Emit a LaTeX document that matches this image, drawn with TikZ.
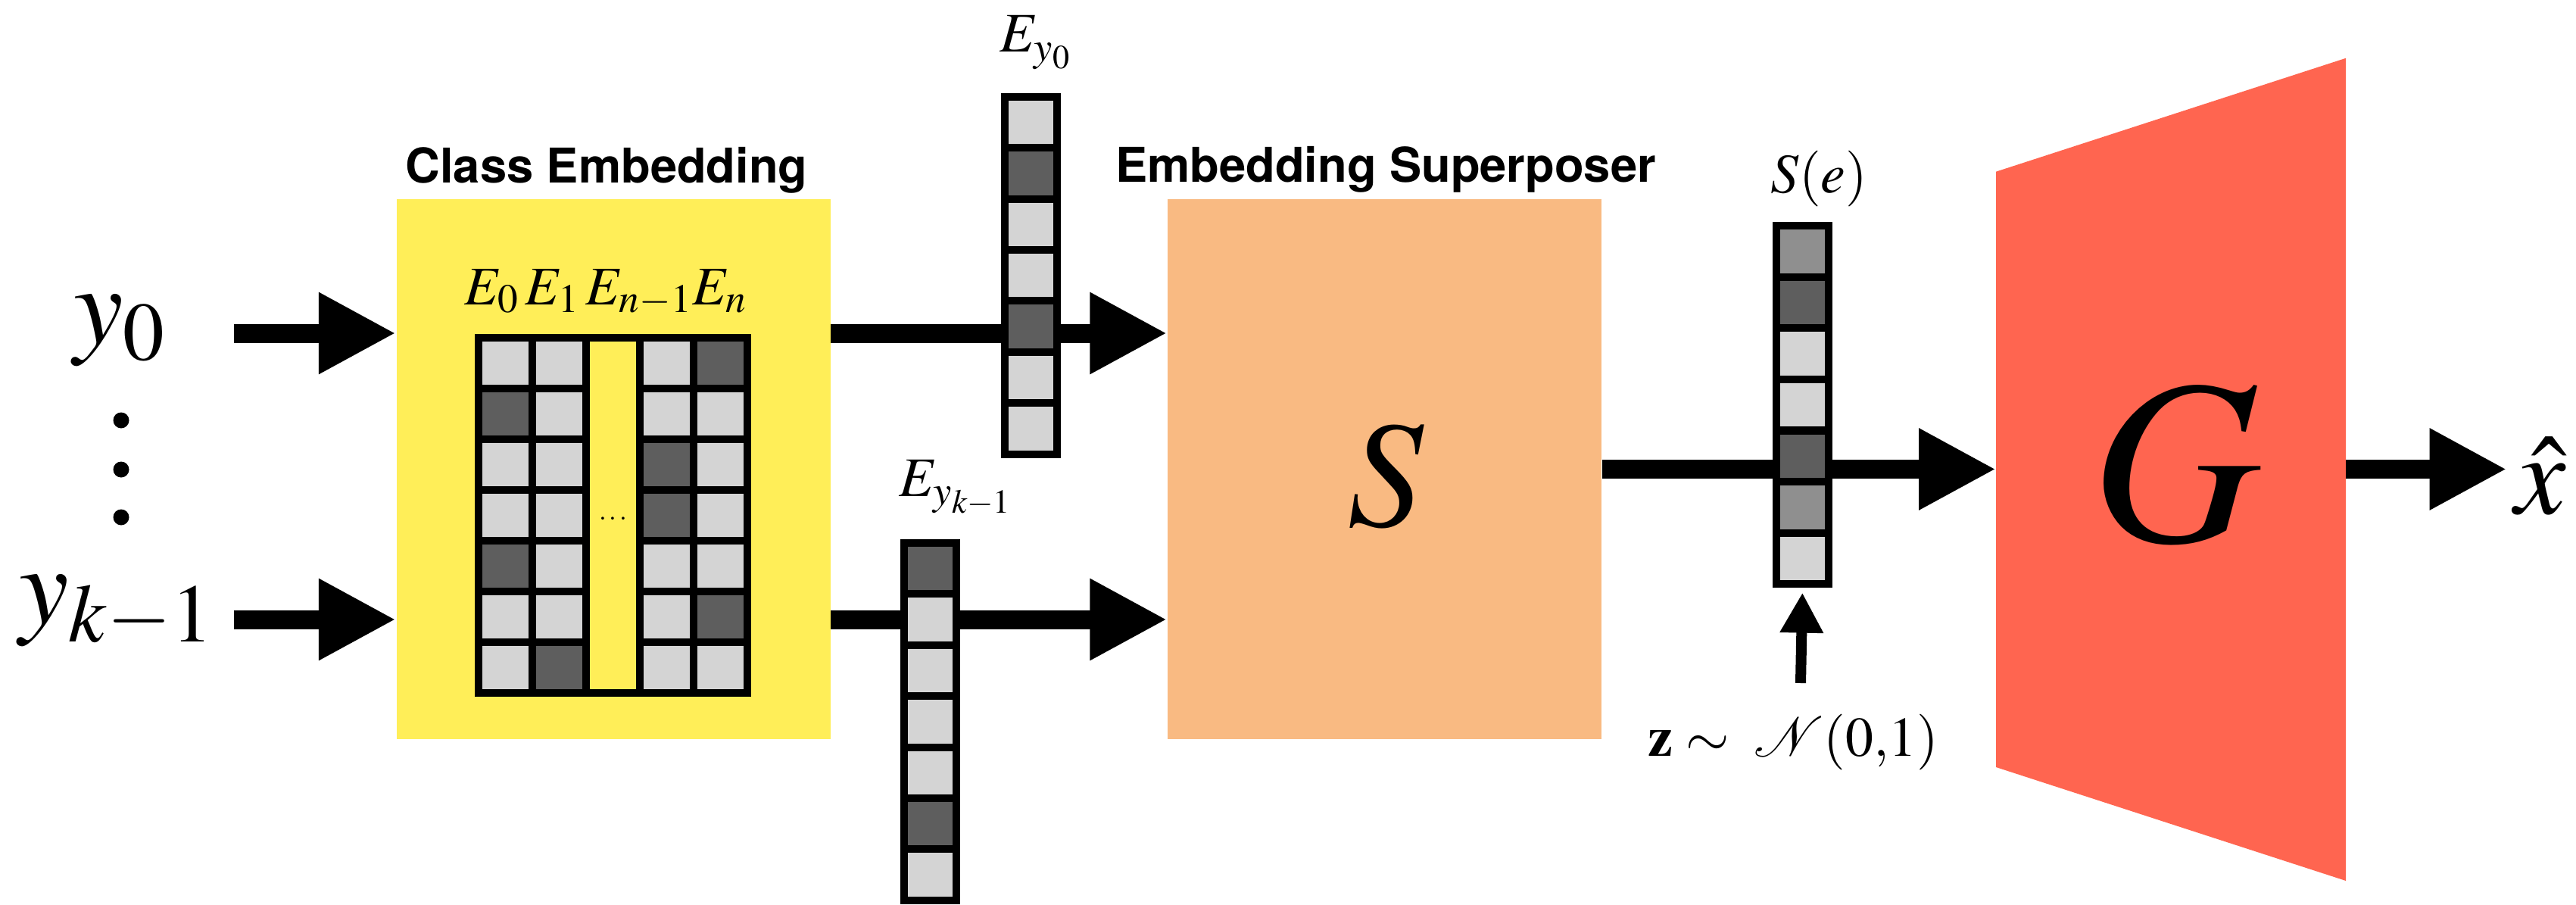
\documentclass[tikz,border=0pt]{standalone}
\usepackage{mathptmx}
\usepackage[no-math]{fontspec}
\usepackage{tikz}
\usetikzlibrary{arrows.meta}
\newfontfamily\headfont{TeX Gyre Heros}
\definecolor{supyellow}{HTML}{FFEE58}
\definecolor{suporange}{HTML}{F9BA82}
\definecolor{supred}{HTML}{FF6550}
\definecolor{suplight}{HTML}{D4D4D4}
\definecolor{supmid}{HTML}{8F8F8F}
\definecolor{supdark}{HTML}{5E5E5E}

\tikzset{
  cell/.style={draw=black, line width=1mm, inner sep=0pt, minimum width=0.69cm, minimum height=0.674cm},
  mcell/.style={cell, minimum width=0.711cm, minimum height=0.67cm},
  block/.style={inner sep=0pt, minimum width=5.73cm, minimum height=7.13cm},
  bigarrow/.style={line width=2.5mm, -{Triangle[length=10.2mm,width=10.1mm]}},
  smallarrow/.style={line width=1.4mm, -{Triangle[length=5.3mm,width=5.4mm]}},
  headline/.style={anchor=base, inner sep=0pt, font=\headfont\bfseries\fontsize{18}{22}\selectfont},
  mathlbl/.style={inner sep=0pt, anchor=base west, font=\fontsize{21}{25}\selectfont},
  biglbl/.style={anchor=base, inner sep=0pt, font=\fontsize{42}{50}\selectfont},
}

\begin{document}
\begin{tikzpicture}[x=1cm,y=1cm]
  \useasboundingbox (0,0) rectangle (34.02,-11.95);

  % blocks
  \node[block, fill=supyellow] (classemb) at (8.10,-6.195) {};
  \node[block, fill=suporange] (superposer) at (18.285,-6.195) {};
  \fill[supred] (26.36,-2.267) -- (30.98,-0.768) -- (30.98,-11.63) -- (26.36,-10.13) -- cycle;
  \coordinate (gin) at (26.36,-6.195);
  \coordinate (gout) at (30.98,-6.195);
  \node[headline] (cetitle) at (8.01,-2.41) {Class Embedding};
  \node[headline] (sptitle) at (18.30,-2.40) {Embedding Superposer};
  \node[font=\fontsize{57}{60}\selectfont] (sletter) at (18.30,-6.285) {$S$};
  \node[font=\fontsize{88}{90}\selectfont] (gletter) at (28.74,-6.13) {$G$};

  % class inputs
  \node[biglbl] (y0) at (1.58,-4.53) {$y_0$};
  \node[biglbl] (yk) at (1.54,-8.23) {$y_{k-1}$};
  \fill (1.60,-5.55) circle[radius=0.105];
  \fill (1.60,-6.20) circle[radius=0.105];
  \fill (1.60,-6.83) circle[radius=0.105];
  \coordinate (in0) at (3.09,-4.40);
  \coordinate (in1) at (3.09,-8.18);

  % arrows
  \draw[bigarrow] (in0) -- (in0 -| classemb.west);
  \draw[bigarrow] (in1) -- (in1 -| classemb.west);
  \draw[bigarrow] (classemb.east |- in0) -- (superposer.west |- in0);
  \draw[bigarrow] (classemb.east |- in1) -- (superposer.west |- in1);
  \draw[bigarrow] (superposer.east) -- (gin);
  \node[biglbl, font=\fontsize{43}{50}\selectfont] (xhat) at (33.55,-6.78) {$\hat{x}$};
  \draw[bigarrow, shorten >=0.1cm] (gout) -- (gout -| xhat.west);

  % embedding table
  \node[mcell, fill=supyellow, minimum height=4.69cm] (gapcol) at (8.094,-6.805) {};
  \node[font=\fontsize{10}{12}\selectfont] (gapdots) at (8.097,-6.86) {$\cdots$};
  \foreach \cx/\cols [count=\j] in {
      6.672/{suplight,supdark,suplight,suplight,supdark,suplight,suplight},
      7.383/{suplight,suplight,suplight,suplight,suplight,suplight,supdark},
      8.805/{suplight,suplight,supdark,supdark,suplight,suplight,suplight},
      9.516/{supdark,suplight,suplight,suplight,suplight,supdark,suplight}}
    \foreach \c [count=\i from 0] in \cols
      \node[mcell, fill=\c] (m\j-\i) at (\cx,-4.795-\i*0.67) {};
  \node[anchor=base, inner sep=0pt, font=\fontsize{20.5}{24}\selectfont] (elabels) at (8.00,-4.02) {$E_0\,E_1\,E_{n-1}E_n$};

  % looked-up embeddings
  \foreach \c [count=\i from 0] in {suplight,supdark,suplight,suplight,supdark,suplight,suplight}
    \node[cell, fill=\c] (ey0-\i) at (13.6125,-1.614-\i*0.674) {};
  \node[mathlbl] (ey0lbl) at (13.20,-0.69) {$E_{y_0}$};
  \foreach \c [count=\i from 0] in {supdark,suplight,suplight,suplight,suplight,supdark,suplight}
    \node[cell, fill=\c] (eyk-\i) at (12.285,-7.507-\i*0.674) {};
  \node[mathlbl] (eyklbl) at (11.87,-6.55) {$E_{y_{k-1}}$};

  % superposed vector and noise
  \foreach \c [count=\i from 0] in {supmid,supdark,suplight,suplight,supdark,supmid,suplight}
    \node[cell, fill=\c] (se-\i) at (23.805,-3.318-\i*0.676) {};
  \node[mathlbl] (selbl) at (23.38,-2.54) {$S(e)$};
  \node[anchor=base, inner sep=0pt, font=\fontsize{21}{25}\selectfont] (zlabel) at (23.685,-9.98) {$\mathbf{z}\sim\;\mathcal{N}(0{,}1)$};
  \coordinate (zsrc) at (23.78,-9.02);
  \draw[smallarrow, shorten >=0.065cm] (zsrc) -- (se-6.south);
\end{tikzpicture}
\end{document}
